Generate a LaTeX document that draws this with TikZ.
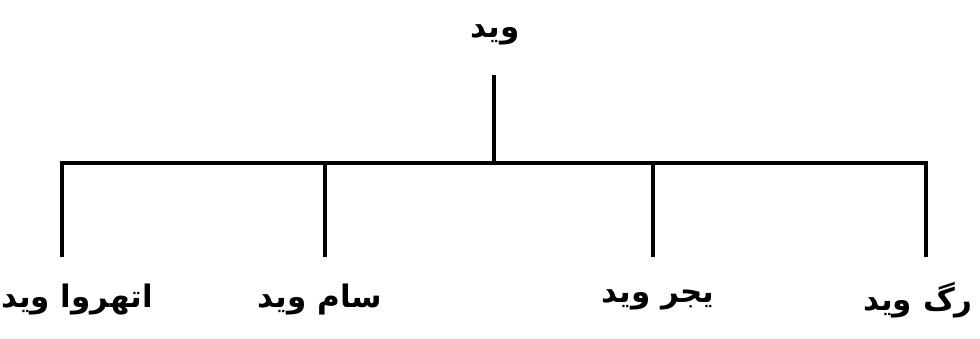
\documentclass[tikz,border=0pt]{standalone}
\usepackage{fontspec}
\newfontfamily\urdu[Script=Arabic]{DejaVu Sans}
\TeXXeTstate=1
\tikzset{
  tree/.style={line width=3.6pt, black, line cap=rect},
  lbl/.style={font=\urdu\bfseries\fontsize{31}{38}\selectfont, inner sep=0pt}
}
\begin{document}
\begin{tikzpicture}[x=1pt,y=1pt]
\useasboundingbox (0,0) rectangle (980,338);
\node[lbl] (root) at (495,303) {\beginR وید\endR};
\coordinate (rt) at (494,261);
\coordinate (j) at (494,175);
\coordinate (ta) at (62,175);
\coordinate (tb) at (325,175);
\coordinate (tc) at (653,175);
\coordinate (td) at (926,175);
\coordinate (ba) at (62,83);
\coordinate (bb) at (325,83);
\coordinate (bc) at (653,83);
\coordinate (bd) at (926,83);
\node[lbl] (a) at (77,38) {\beginR اتھروا وید\endR};
\node[lbl] (b) at (320,38) {\beginR سام وید\endR};
\node[lbl] (c) at (658,38) {\beginR یجر وید\endR};
\node[lbl] (d) at (918,38) {\beginR رگ وید\endR};
\draw[tree] (rt) -- (j);
\draw[tree] (ta) -- (td);
\draw[tree] (ta) -- (ba);
\draw[tree] (tb) -- (bb);
\draw[tree] (tc) -- (bc);
\draw[tree] (td) -- (bd);
\end{tikzpicture}
\end{document}
